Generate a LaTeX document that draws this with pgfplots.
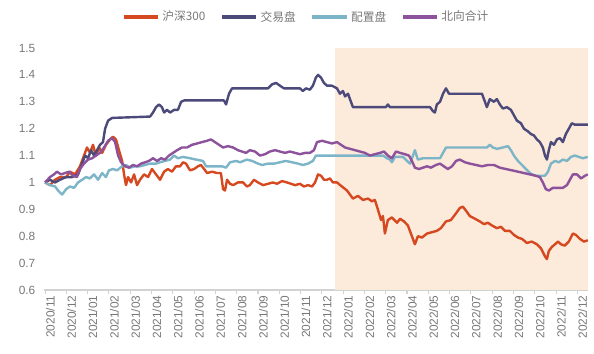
\documentclass[border=0pt]{standalone}
\usepackage{fontspec}
\setmainfont{Liberation Sans}
\newfontfamily\cjk{Noto Sans CJK SC}
\usepackage{pgfplots}
\pgfplotsset{compat=1.18}
\definecolor{cRed}{RGB}{214,72,32}
\definecolor{cNavy}{RGB}{75,74,122}
\definecolor{cBlue}{RGB}{124,180,200}
\definecolor{cPurple}{RGB}{140,82,155}
\definecolor{cShade}{RGB}{252,234,218}
\definecolor{cTick}{RGB}{120,120,120}
\definecolor{cAxis}{RGB}{210,210,210}
\begin{document}
\begin{tikzpicture}
\useasboundingbox (-33pt,-48pt) rectangle (412.5pt,217.5pt);
\begin{axis}[
  scale only axis,
  width=408pt, height=181.5pt,
  xmin=-0.05, xmax=25.5,
  ymin=0.6, ymax=1.5,
  axis x line*=bottom, axis y line*=left,
  y axis line style={draw=none},
  x axis line style={draw=cAxis, line width=0.8pt},
  ytick={0.6,0.7,0.8,0.9,1.0,1.1,1.2,1.3,1.4,1.5},
  yticklabels={0.6,0.7,0.8,0.9,1,1.1,1.2,1.3,1.4,1.5},
  ytick style={draw=none},
  xtick={0,...,25},
  xticklabels={2020/11,2020/12,2021/01,2021/02,2021/03,2021/04,2021/05,2021/06,2021/07,2021/08,2021/09,2021/10,2021/11,2021/12,2022/01,2022/02,2022/03,2022/04,2022/05,2022/06,2022/07,2022/08,2022/09,2022/10,2022/11,2022/12},
  xtick style={draw=cAxis, line width=0.8pt},
  xtick align=outside,
  major tick length=3pt,
  tick label style={font=\fontsize{8.9}{10}\selectfont, text=cTick},
  xticklabel style={rotate=90, anchor=east, inner sep=1pt, yshift=-4pt},
  yticklabel style={xshift=-3pt},
  /pgf/number format/assume math mode=true,
  legend columns=4,
  legend style={draw=none, fill=none, at={(0.4825,1.128)}, anchor=center,
    font=\cjk\fontsize{8.8}{10}\selectfont, text=cTick,
    /tikz/every even column/.append style={column sep=9pt}},
  legend image code/.code={\draw[#1, line width=2.4pt] (0pt,0pt) -- (26pt,0pt);},
  every axis plot/.append style={line width=1.8pt, line join=round},
]
\addplot[fill=cShade, draw=none, forget plot] coordinates {(13.6,0.6) (13.6,1.5) (25.5,1.5) (25.5,0.6)} -- cycle;

\addplot[cRed] coordinates {
(0.00,1.00)(0.23,0.99)(0.47,1.01)(0.70,1.02)(0.99,1.02)(1.17,1.04)(1.41,1.03)(1.64,1.06)(1.83,1.10)(1.97,1.13)
(2.11,1.11)(2.25,1.14)(2.39,1.10)(2.54,1.13)(2.68,1.11)(2.86,1.14)(3.05,1.16)(3.19,1.17)(3.33,1.16)(3.47,1.12)
(3.62,1.08)(3.71,1.03)(3.80,0.99)(3.90,1.02)(4.04,1.00)(4.18,1.03)(4.32,0.99)(4.46,1.01)(4.65,1.03)(4.84,1.02)
(5.02,1.05)(5.21,1.03)(5.40,1.01)(5.59,1.04)(5.77,1.05)(5.96,1.04)(6.15,1.06)(6.34,1.06)(6.48,1.075)(6.62,1.07)
(6.81,1.045)(7.00,1.05)(7.18,1.06)(7.32,1.065)(7.47,1.05)(7.61,1.035)(7.84,1.04)(8.08,1.035)(8.26,1.035)(8.36,0.975)
(8.45,0.97)(8.55,1.01)(8.69,0.995)(8.83,0.99)(9.06,1.00)(9.30,1.00)(9.48,0.985)(9.62,0.99)(9.81,1.01)(10.00,1.00)
(10.24,0.99)(10.47,0.995)(10.70,1.00)(10.89,0.995)(11.13,1.005)(11.36,1.00)(11.55,0.995)(11.74,0.99)(11.97,0.995)(12.16,0.985)
(12.35,0.99)(12.54,0.985)(12.68,1.00)(12.82,1.03)(12.96,1.025)(13.10,1.01)(13.24,1.01)(13.38,1.015)(13.52,1.00)(13.71,1.00)
(13.94,0.985)(14.18,0.97)(14.32,0.955)(14.46,0.94)(14.70,0.95)(14.93,0.935)(15.17,0.94)(15.35,0.93)(15.49,0.935)(15.63,0.90)
(15.78,0.86)(15.87,0.875)(15.96,0.81)(16.10,0.86)(16.29,0.87)(16.53,0.85)(16.67,0.865)(16.86,0.855)(17.04,0.84)(17.23,0.80)
(17.37,0.77)(17.51,0.80)(17.70,0.795)(17.94,0.81)(18.17,0.815)(18.40,0.82)(18.59,0.83)(18.83,0.855)(19.06,0.86)(19.30,0.885)
(19.48,0.905)(19.62,0.91)(19.77,0.895)(19.95,0.875)(20.19,0.865)(20.42,0.855)(20.61,0.845)(20.80,0.85)(20.99,0.84)(21.22,0.83)
(21.41,0.835)(21.60,0.82)(21.83,0.82)(22.02,0.805)(22.21,0.795)(22.40,0.79)(22.63,0.775)(22.86,0.78)(23.10,0.77)(23.29,0.755)
(23.48,0.725)(23.57,0.715)(23.66,0.745)(23.80,0.76)(23.95,0.77)(24.09,0.78)(24.23,0.77)(24.41,0.765)(24.60,0.78)(24.79,0.81)
(24.93,0.805)(25.12,0.79)(25.31,0.78)(25.49,0.785)
};
\addlegendentry{沪深300}

\addplot[cNavy] coordinates {
(0.00,1.00)(0.23,1.01)(0.47,1.00)(0.70,1.01)(0.99,1.02)(1.27,1.02)(1.55,1.03)(1.74,1.07)(1.88,1.10)(2.02,1.09)
(2.16,1.12)(2.30,1.10)(2.44,1.12)(2.58,1.14)(2.72,1.15)(2.82,1.20)(2.96,1.23)(3.15,1.24)(4.93,1.245)(5.07,1.26)
(5.21,1.28)(5.35,1.29)(5.49,1.28)(5.59,1.26)(5.73,1.27)(5.87,1.26)(6.06,1.27)(6.24,1.27)(6.39,1.30)(6.53,1.305)
(8.40,1.305)(8.50,1.29)(8.64,1.33)(8.78,1.35)(10.47,1.35)(10.66,1.365)(10.85,1.37)(11.03,1.36)(11.22,1.35)(11.97,1.35)
(12.11,1.34)(12.25,1.35)(12.44,1.345)(12.58,1.36)(12.72,1.39)(12.82,1.40)(12.96,1.39)(13.10,1.37)(13.24,1.36)(13.47,1.36)
(13.71,1.35)(13.85,1.33)(13.99,1.34)(14.09,1.32)(14.23,1.33)(14.32,1.31)(14.46,1.28)(16.01,1.28)(16.10,1.29)(16.20,1.28)
(18.08,1.28)(18.22,1.265)(18.31,1.26)(18.40,1.29)(18.55,1.30)(18.69,1.33)(18.83,1.35)(18.97,1.33)(20.52,1.33)(20.66,1.30)
(20.75,1.28)(20.89,1.31)(21.08,1.30)(21.22,1.31)(21.36,1.29)(21.50,1.275)(21.69,1.28)(21.88,1.27)(22.02,1.25)(22.16,1.23)
(22.35,1.22)(22.49,1.20)(22.68,1.19)(22.82,1.18)(22.96,1.175)(23.10,1.16)(23.24,1.15)(23.38,1.13)(23.48,1.10)(23.57,1.085)
(23.66,1.12)(23.76,1.15)(23.90,1.14)(24.04,1.16)(24.18,1.165)(24.32,1.15)(24.46,1.18)(24.60,1.20)(24.74,1.22)(24.88,1.215)
(25.49,1.215)
};
\addlegendentry{交易盘}

\addplot[cBlue] coordinates {
(0.00,1.00)(0.23,0.99)(0.47,0.985)(0.61,0.97)(0.80,0.955)(0.99,0.975)(1.17,0.985)(1.36,0.98)(1.55,1.00)(1.74,1.01)
(1.92,1.02)(2.11,1.015)(2.30,1.03)(2.49,1.01)(2.68,1.035)(2.86,1.02)(3.00,1.045)(3.19,1.05)(3.38,1.045)(3.62,1.06)
(3.80,1.065)(3.99,1.055)(4.23,1.06)(4.46,1.06)(4.70,1.065)(4.93,1.07)(5.21,1.07)(5.40,1.075)(5.63,1.08)(5.87,1.085)
(6.06,1.10)(6.24,1.09)(6.48,1.095)(6.81,1.09)(7.09,1.085)(7.42,1.08)(7.56,1.06)(8.31,1.06)(8.50,1.055)(8.69,1.075)
(8.97,1.08)(9.16,1.075)(9.48,1.085)(9.72,1.08)(10.00,1.07)(10.19,1.065)(10.47,1.07)(10.75,1.07)(11.03,1.075)(11.31,1.08)
(11.60,1.075)(11.88,1.07)(12.11,1.065)(12.35,1.07)(12.58,1.08)(12.72,1.10)(15.87,1.10)(16.06,1.09)(16.20,1.085)(16.29,1.075)
(16.43,1.095)(16.81,1.095)(17.00,1.08)(17.14,1.07)(17.28,1.10)(17.37,1.12)(17.51,1.085)(17.75,1.09)(18.55,1.09)(18.69,1.11)
(18.83,1.13)(20.75,1.13)(20.89,1.14)(21.03,1.13)(21.22,1.125)(21.50,1.13)(21.74,1.135)(21.88,1.12)(22.02,1.10)(22.21,1.08)
(22.40,1.065)(22.58,1.05)(22.77,1.035)(23.01,1.025)(23.48,1.025)(23.62,1.04)(23.76,1.07)(23.95,1.08)(24.13,1.075)(24.32,1.085)
(24.51,1.08)(24.70,1.095)(24.88,1.10)(25.07,1.095)(25.26,1.09)(25.49,1.095)
};
\addlegendentry{配置盘}

\addplot[cPurple] coordinates {
(0.00,1.00)(0.23,1.02)(0.42,1.03)(0.56,1.04)(0.75,1.03)(0.94,1.035)(1.13,1.04)(1.31,1.025)(1.50,1.02)(1.64,1.05)
(1.83,1.07)(2.02,1.085)(2.21,1.09)(2.39,1.10)(2.58,1.11)(2.77,1.13)(2.96,1.155)(3.15,1.165)(3.29,1.15)(3.43,1.10)
(3.57,1.075)(3.76,1.06)(3.94,1.055)(4.13,1.065)(4.32,1.06)(4.51,1.07)(4.70,1.075)(4.88,1.08)(5.07,1.09)(5.26,1.08)
(5.45,1.09)(5.63,1.085)(5.82,1.10)(6.01,1.11)(6.20,1.12)(6.43,1.13)(6.67,1.13)(6.90,1.14)(7.14,1.145)(7.37,1.15)
(7.61,1.155)(7.79,1.16)(7.98,1.15)(8.17,1.14)(8.36,1.13)(8.59,1.135)(8.83,1.13)(9.06,1.12)(9.25,1.115)(9.44,1.11)
(9.62,1.12)(9.86,1.115)(10.09,1.10)(10.33,1.105)(10.56,1.115)(10.80,1.12)(11.03,1.115)(11.27,1.11)(11.50,1.115)(11.74,1.11)
(11.97,1.105)(12.21,1.11)(12.44,1.11)(12.63,1.12)(12.77,1.15)(13.01,1.155)(13.24,1.15)(13.47,1.145)(13.71,1.15)(13.90,1.14)
(14.09,1.13)(14.32,1.125)(14.56,1.12)(14.79,1.115)(15.02,1.11)(15.26,1.10)(15.49,1.105)(15.73,1.11)(15.92,1.115)(16.10,1.10)
(16.29,1.09)(16.48,1.115)(16.67,1.11)(16.90,1.105)(17.09,1.10)(17.23,1.08)(17.37,1.055)(17.56,1.05)(17.75,1.055)(17.94,1.06)
(18.12,1.055)(18.36,1.065)(18.55,1.07)(18.73,1.06)(18.92,1.05)(19.11,1.06)(19.30,1.08)(19.48,1.085)(19.72,1.075)(19.95,1.07)
(20.24,1.065)(20.52,1.06)(20.80,1.065)(21.08,1.065)(21.36,1.055)(21.64,1.05)(21.93,1.045)(22.21,1.04)(22.49,1.035)(22.77,1.03)
(23.05,1.025)(23.24,1.02)(23.38,1.00)(23.52,0.975)(23.66,0.97)(23.85,0.98)(24.09,0.98)(24.32,0.98)(24.51,0.99)(24.65,1.01)
(24.79,1.03)(24.98,1.03)(25.17,1.015)(25.36,1.025)(25.49,1.03)
};
\addlegendentry{北向合计}
\end{axis}
\end{tikzpicture}
\end{document}
